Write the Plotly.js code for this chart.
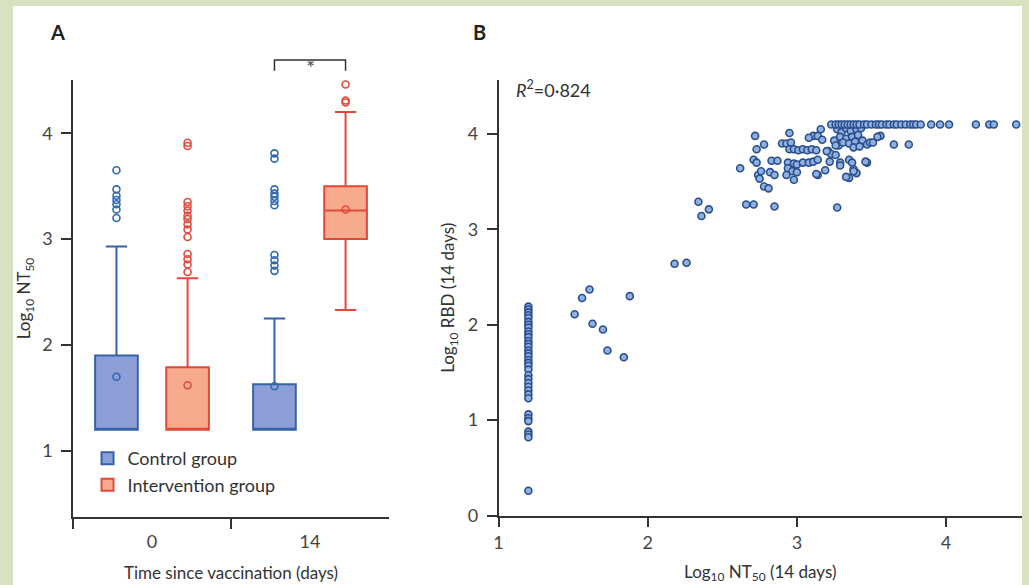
<!DOCTYPE html>
<html>
<head>
<meta charset="utf-8">
<script src="https://cdn.plot.ly/plotly-3.0.1.min.js"></script>
<style>
html,body{margin:0;padding:0;background:#d6e2c0;width:1029px;height:585px;overflow:hidden;}
#chart{position:absolute;left:13px;top:6px;width:1009px;height:600px;background:#fff;}
</style>
</head>
<body>
<div id="chart"></div>
<script>
// ---------- Panel A : box plots ----------
const categories = ['0', '14'];

const controlQ1 = [1.2, 1.2];
const controlMedian = [1.2, 1.2];
const controlQ3 = [1.9, 1.63];
const controlLowerFence = [1.2, 1.2];
const controlUpperFence = [2.93, 2.25];
const controlMean = [1.70, 1.61];
const controlOutliersDay0 = [3.65, 3.47, 3.41, 3.37, 3.33, 3.28, 3.20];
const controlOutliersDay14 = [3.81, 3.76, 3.47, 3.43, 3.40, 3.36, 3.32, 2.85, 2.80, 2.75, 2.70];

const interventionQ1 = [1.2, 3.0];
const interventionMedian = [1.2, 3.27];
const interventionQ3 = [1.79, 3.5];
const interventionLowerFence = [1.2, 2.33];
const interventionUpperFence = [2.63, 4.2];
const interventionMean = [1.62, 3.28];
const interventionOutliersDay0 = [3.91, 3.88, 3.35, 3.31, 3.27, 3.22, 3.19, 3.14, 3.09, 3.02, 2.86, 2.81, 2.76, 2.69];
const interventionOutliersDay14 = [4.46, 4.31, 4.29];

// ---------- Panel B : scatter ----------
const nt50Day14 = [
  1.2,1.2,1.2,1.2,1.2,1.2,1.2,1.2,1.2,1.2,1.2,1.2,1.2,1.2,1.2,1.2,1.2,1.2,
  1.2,1.2,1.2,1.2,1.2,1.2,1.2,1.2,1.2,1.2,1.2,1.2,1.2,1.2,1.2,1.2,1.2,
  1.51,1.56,1.61,1.63,1.70,1.73,1.84,1.88,
  2.18,2.26,2.34,2.36,2.41,
  2.66,2.71,2.85,3.27,
  2.62,
  2.72,2.78,2.73,2.71,2.73,2.83,2.87,
  2.74,2.76,2.75,2.82,2.85,2.78,2.81,
  2.90,2.93,2.95,2.95,2.98,3.01,3.04,3.07,3.10,3.13,2.96,
  2.94,2.98,3.00,3.04,3.08,3.11,3.14,
  2.94,2.97,3.00,2.98,2.93,
  3.14,3.19,3.13,
  3.11,3.14,3.17,3.16,3.08,
  3.21,3.23,3.26,3.28,3.22,3.20,
  3.29,3.35,3.37,3.38,3.40,3.35,3.47,3.33,3.38,3.29,
  3.27,3.30,3.33,3.36,3.40,3.43,3.29,3.33,3.37,3.41,3.31,3.35,3.39,3.44,3.38,3.42,3.25,3.26,
  3.47,3.49,3.51,3.56,3.54,3.65,3.75,3.46,
  3.23,3.26,3.28,3.30,3.32,3.34,3.36,3.38,3.40,3.42,3.45,3.47,3.50,3.53,3.55,3.57,
  3.60,3.62,3.65,3.67,3.70,3.73,3.76,3.78,3.80,3.83,3.90,3.96,4.02,4.20,4.29,4.32,4.47
];
const rbdDay14 = [
  2.19,2.16,2.13,2.10,2.07,2.03,2.00,1.97,1.93,1.90,1.87,1.83,1.80,1.77,1.73,1.70,1.67,1.63,
  1.60,1.57,1.53,1.47,1.43,1.39,1.35,1.31,1.27,1.23,1.06,1.02,0.99,0.88,0.85,0.82,0.26,
  2.11,2.28,2.37,2.01,1.95,1.73,1.66,2.30,
  2.64,2.65,3.29,3.14,3.21,
  3.26,3.26,3.24,3.23,
  3.64,
  3.98,3.89,3.84,3.73,3.70,3.72,3.72,
  3.57,3.61,3.53,3.60,3.57,3.45,3.43,
  3.90,3.90,4.01,3.84,3.84,3.83,3.84,3.83,3.84,3.83,3.91,
  3.70,3.69,3.68,3.70,3.70,3.71,3.73,
  3.64,3.61,3.60,3.52,3.57,
  3.57,3.62,3.58,
  3.98,3.98,3.94,4.05,3.96,
  3.82,3.79,3.78,3.88,3.71,3.82,
  3.70,3.73,3.70,3.63,3.59,3.54,3.70,3.55,3.61,3.67,
  4.05,4.02,4.06,4.03,4.05,4.06,3.97,3.95,3.97,3.99,3.91,3.90,3.92,3.93,3.86,3.87,3.93,3.88,
  3.89,3.91,3.91,3.98,3.97,3.89,3.89,3.71,
  4.10,4.10,4.10,4.10,4.10,4.10,4.10,4.10,4.10,4.10,4.10,4.10,4.10,4.10,4.10,4.10,
  4.10,4.10,4.10,4.10,4.10,4.10,4.10,4.10,4.10,4.10,4.10,4.10,4.10,4.10,4.10,4.10,4.10
];
const r2Label = '<i>R</i><sup>2</sup>=0·824';

// ---------- styles ----------
const BLUE = '#3563aa', BLUE_FILL = '#8d9fd6', BLUE_PT = '#2f6ab3';
const RED = '#e2493b', RED_FILL = '#f7aa8e', RED_PT = '#e24a3c';
const AXIS = '#333333';
const BOXGAP = 0.10, BOXGROUPGAP = 0.40;

function pointsFor(outliersByCat, means) {
  const xs = [], ys = [];
  categories.forEach((c, i) => {
    outliersByCat[i].forEach(v => { xs.push(c); ys.push(v); });
    xs.push(c); ys.push(means[i]);
  });
  return {xs, ys};
}
const cPts = pointsFor([controlOutliersDay0, controlOutliersDay14], controlMean);
const iPts = pointsFor([interventionOutliersDay0, interventionOutliersDay14], interventionMean);

const boxCommon = {type: 'box', xaxis: 'x', yaxis: 'y', whiskerwidth: 0.5, hoverinfo: 'skip'};
const traces = [
  Object.assign({}, boxCommon, {
    name: 'Control group', x: categories, q1: controlQ1, median: controlMedian, q3: controlQ3,
    lowerfence: controlLowerFence, upperfence: controlUpperFence,
    fillcolor: BLUE_FILL, line: {color: BLUE, width: 2}, offsetgroup: 'ctrl', legendgroup: 'ctrl'
  }),
  Object.assign({}, boxCommon, {
    name: 'Intervention group', x: categories, q1: interventionQ1, median: interventionMedian, q3: interventionQ3,
    lowerfence: interventionLowerFence, upperfence: interventionUpperFence,
    fillcolor: RED_FILL, line: {color: RED, width: 2}, offsetgroup: 'int', legendgroup: 'int'
  }),
  Object.assign({}, boxCommon, {
    name: 'Control points', x: cPts.xs, y: cPts.ys, boxpoints: 'all', jitter: 0, pointpos: 0,
    fillcolor: 'rgba(0,0,0,0)', line: {color: 'rgba(0,0,0,0)', width: 0},
    marker: {symbol: 'circle-open', size: 7, color: BLUE_PT, line: {width: 1.6}},
    offsetgroup: 'ctrl', showlegend: false
  }),
  Object.assign({}, boxCommon, {
    name: 'Intervention points', x: iPts.xs, y: iPts.ys, boxpoints: 'all', jitter: 0, pointpos: 0,
    fillcolor: 'rgba(0,0,0,0)', line: {color: 'rgba(0,0,0,0)', width: 0},
    marker: {symbol: 'circle-open', size: 7, color: RED_PT, line: {width: 1.6}},
    offsetgroup: 'int', showlegend: false
  }),
  {
    type: 'scatter', mode: 'markers', xaxis: 'x2', yaxis: 'y2', x: nt50Day14, y: rbdDay14,
    marker: {size: 7, color: '#8fb1e0', line: {color: '#2b4f8e', width: 1.6}},
    showlegend: false, hoverinfo: 'skip', cliponaxis: false
  }
];

const axisBase = {
  showline: true, linecolor: AXIS, linewidth: 1.5, ticks: 'outside', ticklen: 10, tickwidth: 1.5,
  tickcolor: AXIS, showgrid: false, zeroline: false, tickfont: {size: 18, color: '#444'},
  fixedrange: true
};
const titleFont = {size: 17, color: '#333'};

const shift = 0.25 * (1 - BOXGAP);
const bracketTop = 1.0458, bracketLeg = 1.0213;

const layout = {
  width: 1009, height: 600,
  margin: {l: 60, r: 0, t: 74, b: 89},
  paper_bgcolor: '#ffffff', plot_bgcolor: 'rgba(0,0,0,0)',
  font: {family: 'Lato, "Open Sans", sans-serif', size: 17, color: '#333'},
  boxmode: 'group', boxgap: BOXGAP, boxgroupgap: BOXGROUPGAP,
  showlegend: true,
  legend: {x: 0.0153, y: 0.176, xanchor: 'left', yanchor: 'top', bgcolor: 'rgba(0,0,0,0)',
           font: {size: 18, color: '#333'}, traceorder: 'normal'},
  xaxis: Object.assign({}, axisBase, {
    domain: [0, 0.333], anchor: 'y', type: 'category', range: [-0.5, 1.5], tickson: 'boundaries',
    ticklabelstandoff: 8,
    title: {text: 'Time since vaccination (days)', font: titleFont, standoff: 16}
  }),
  yaxis: Object.assign({}, axisBase, {
    domain: [0, 1], anchor: 'x', range: [0.375, 4.503], tickvals: [1, 2, 3, 4], ticklabelstandoff: 5,
    title: {text: 'Log<sub>10</sub> NT<sub>50</sub>', font: titleFont}
  }),
  xaxis2: Object.assign({}, axisBase, {
    domain: [0.4484, 1], anchor: 'y2', range: [1, 4.509], tickvals: [1, 2, 3, 4],
    title: {text: 'Log<sub>10</sub> NT<sub>50</sub> (14 days)', font: titleFont, standoff: 14}
  }),
  yaxis2: Object.assign({}, axisBase, {
    domain: [0.0034, 1], anchor: 'x2', range: [0, 4.566], tickvals: [0, 1, 2, 3, 4], ticklabelstandoff: 5,
    title: {text: 'Log<sub>10</sub> RBD (14 days)', font: titleFont}
  }),
  shapes: [
    {type: 'path', xref: 'x', yref: 'paper',
     path: `M ${1 - shift},${bracketLeg} L ${1 - shift},${bracketTop} L ${1 + shift},${bracketTop} L ${1 + shift},${bracketLeg}`,
     line: {color: AXIS, width: 1.5}}
  ],
  annotations: [
    {text: '*', xref: 'x', yref: 'paper', x: 1, y: 1.065, showarrow: false, font: {size: 22, color: '#555'}},
    {text: '<b>A</b>', xref: 'paper', yref: 'paper', x: -0.0263, y: 1.143, showarrow: false,
     font: {size: 20, color: '#222'}},
    {text: '<b>B</b>', xref: 'paper', yref: 'paper', x: 0.428, y: 1.143, showarrow: false,
     font: {size: 20, color: '#222'}},
    {text: r2Label, xref: 'paper', yref: 'paper', x: 0.4647, y: 0.9805, xanchor: 'left', yanchor: 'middle',
     showarrow: false, font: {size: 18, color: '#333'}}
  ]
};

Plotly.newPlot('chart', traces, layout, {displayModeBar: false, responsive: false});
</script>
</body>
</html>
